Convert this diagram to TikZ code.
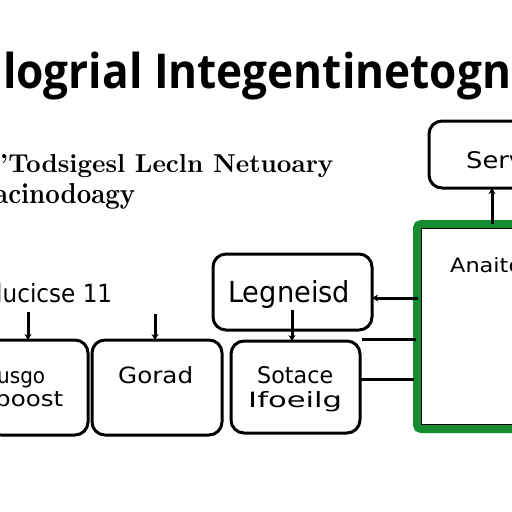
\documentclass[tikz,border=0pt]{standalone}
\usepackage{fontspec}
\usepackage{graphicx}
\setsansfont{DejaVu Sans}
\newfontfamily\titlefont{Open Sans}
\usetikzlibrary{arrows.meta}
\definecolor{frameGreen}{RGB}{22,140,48}
\tikzset{
  box/.style={draw=black, line width=3pt, rounded corners=13pt, fill=white},
  lbl/.style={inner sep=0pt, anchor=base west},
  conn/.style={draw=black, line width=3pt, -{Stealth[length=6pt,width=7pt]}},
  wire/.style={draw=black, line width=3pt},
}
\begin{document}
\begin{tikzpicture}[x=1pt,y=-1pt]
\useasboundingbox (0,0) rectangle (512,512);
\fill[white] (0,0) rectangle (512,512);
% title
\node[lbl] (title) at (3,88)
  {\resizebox*{508pt}{48pt}{\titlefont\bfseries logrial Integentinetogn}};
% subtitle
\node[lbl] (sub1) at (0,172)
  {\resizebox{333pt}{18pt}{\rmfamily\bfseries 'Todsigesl Lecln Netuoary}};
\node[lbl] (sub2) at (-6,203)
  {\resizebox{141pt}{20pt}{\rmfamily\bfseries acinodoagy}};
% left label
\node[lbl] (lic) at (-4,302)
  {\resizebox{116pt}{19pt}{\sffamily lucicse 11}};
% boxes
\draw[box] (-12,340) rectangle (88,435);
\coordinate (Atop) at (28,340);
\draw[box] (92,340) rectangle (222,435);
\coordinate (Btop) at (155,340);
\draw[box] (231,341) rectangle (360,433);
\coordinate (Ctop) at (292,341);
\draw[box] (213,254) rectangle (372,330);
\draw[box] (429,121) rectangle (530,188);
\coordinate (Ebot) at (492,188);
% green frame
\draw[frameGreen, line width=8pt, rounded corners=4pt] (417,224) rectangle (540,429);
\draw[black, line width=1.2pt] (421.5,228.5) rectangle (540,424.5);
\coordinate (Gtop) at (492,224);
% texts
\node[lbl] (ta1) at (-3,383) {\resizebox{48pt}{12pt}{\sffamily usgo}};
\node[lbl] (ta2) at (-5,406) {\resizebox{68pt}{15pt}{\sffamily poost}};
\node[lbl] (tb) at (118,383) {\resizebox{75pt}{17pt}{\sffamily Gorad}};
\node[lbl] (tc1) at (257,383) {\resizebox{76pt}{17pt}{\sffamily Sotace}};
\node[lbl] (tc2) at (248,407) {\resizebox{94pt}{16pt}{\sffamily Ifoeilg}};
\node[lbl] (td) at (228,302) {\resizebox{122pt}{22pt}{\sffamily Legneisd}};
\node[lbl] (te) at (466,168) {\resizebox{58pt}{17pt}{\sffamily Serv}};
\node[lbl] (tg) at (450,272) {\resizebox{72pt}{15pt}{\sffamily Anaito}};
% connectors
\coordinate (licb) at (28,312);
\coordinate (bsrc) at (155,314);
\coordinate (dsrc) at (292,310);
\draw[conn] (licb) -- (Atop);
\draw[conn] (bsrc) -- (Btop);
\draw[conn] (dsrc) -- (Ctop);
\draw[conn] (Gtop) -- (Ebot);
\coordinate (g1) at (418,298);
\coordinate (d1) at (372,298);
\coordinate (g2) at (416,339);
\coordinate (c2) at (362,339);
\coordinate (g3) at (414,379);
\coordinate (c3) at (360,379);
\draw[conn] (g1) -- (d1);
\draw[wire] (g2) -- (c2);
\draw[wire] (g3) -- (c3);
\end{tikzpicture}
\end{document}
